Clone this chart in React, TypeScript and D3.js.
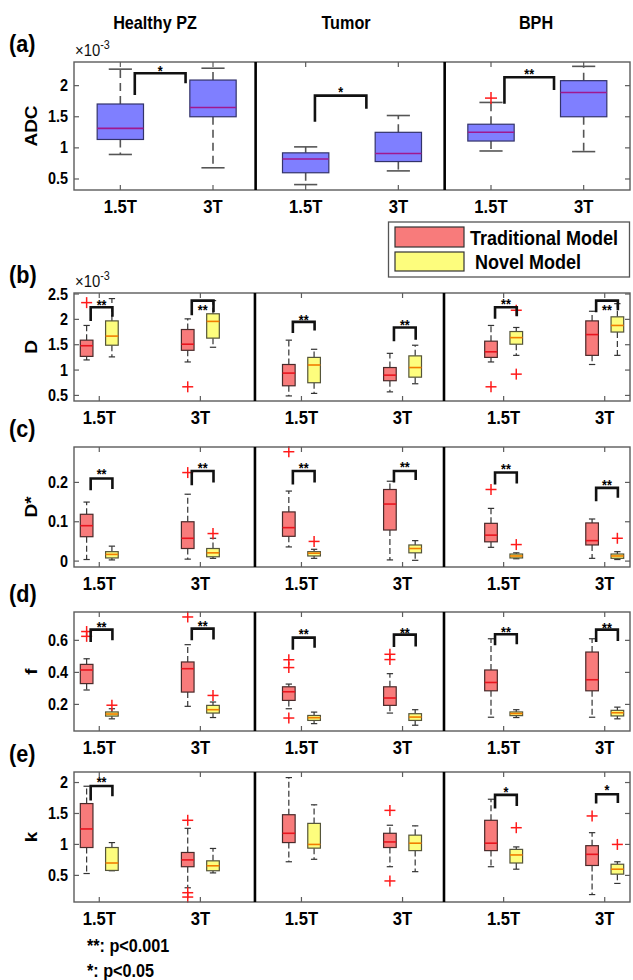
import React from "react";
import * as d3 from "d3";

const FONT = "'Liberation Sans', Arial, Helvetica, sans-serif";

// ---------- categories ----------
const tissues = ["Healthy PZ", "Tumor", "BPH"];
const groupLabels = ["1.5T", "3T", "1.5T", "3T", "1.5T", "3T"];
const groupPos = [1, 2, 3, 4, 5, 6];
const legendLabels = ["Traditional Model", "Novel Model"];
const footnotes = ["**: p<0.001", "*: p<0.05"];

// ---------- panel (a) ADC (x10^-3), stats = [lo, q1, median, q3, hi] ----------
const adcStats = [
  [0.894, 1.135, 1.313, 1.705, 2.265],
  [0.68, 1.5, 1.65, 2.09, 2.28],
  [0.41, 0.6, 0.82, 0.92, 1.016],
  [0.63, 0.78, 0.91, 1.25, 1.52],
  [0.95, 1.11, 1.25, 1.38, 1.73],
  [0.94, 1.5, 1.89, 2.08, 2.31],
];
const adcOutliers = [[], [], [], [], [1.8], []];
// [x1, x2, top, leftLegEnd, rightLegEnd, stars, starValue]
const adcBrackets: [number, number, number, number, number, string, number][] = [
  [1.156, 1.704, 2.2, 1.85, 2.04, "*", 2.29],
  [3.1, 3.655, 1.84, 1.42, 1.63, "*", 1.95],
  [5.145, 5.68, 2.135, 1.71, 1.93, "**", 2.23],
];
const adcTicks = [0.5, 1, 1.5, 2];

// ---------- panel (b) D (x10^-3) ----------
const dTrad = [
  [1.2, 1.27, 1.48, 1.59, 1.88],
  [1.16, 1.39, 1.51, 1.8, 2.01],
  [0.49, 0.69, 0.94, 1.11, 1.59],
  [0.57, 0.79, 0.9, 1.05, 1.33],
  [1.16, 1.25, 1.36, 1.57, 1.88],
  [1.11, 1.29, 1.7, 1.97, 2.16],
];
const dTradOut = [[2.33], [0.67], [], [], [0.67], []];
const dNovel = [
  [1.26, 1.49, 1.67, 1.97, 2.41],
  [1.45, 1.63, 1.96, 2.11, 2.37],
  [0.54, 0.75, 1.1, 1.25, 1.41],
  [0.73, 0.86, 1.05, 1.28, 1.49],
  [1.29, 1.51, 1.64, 1.76, 1.84],
  [1.29, 1.75, 1.88, 2.05, 2.31],
];
const dNovelOut = [[], [], [], [], [2.18, 0.92], []];
// [group, top, leftLegEnd, rightLegEnd, stars, starValue]
const dBrackets: [number, number, number, number, string, number][] = [
  [1, 2.24, 1.97, 2.05, "**", 2.34],
  [2, 2.37, 2.08, 2.14, "**", 2.25],
  [3, 1.95, 1.73, 1.78, "**", 2.05],
  [4, 1.84, 1.57, 1.6, "**", 1.95],
  [5, 2.24, 2.01, 2.06, "**", 2.36],
  [6, 2.37, 2.14, 2.18, "**", 2.25],
];
const dTicks = [0.5, 1, 1.5, 2, 2.5];

// ---------- panel (c) D* ----------
const dsTrad = [
  [0.004, 0.062, 0.09, 0.119, 0.15],
  [0.005, 0.032, 0.058, 0.1, 0.17],
  [0.036, 0.063, 0.085, 0.125, 0.178],
  [0.003, 0.079, 0.145, 0.182, 0.203],
  [0.035, 0.049, 0.066, 0.096, 0.134],
  [0.007, 0.041, 0.052, 0.097, 0.107],
];
const dsTradOut = [[], [0.225], [0.278], [], [0.182], []];
const dsNovel = [
  [0.003, 0.008, 0.017, 0.024, 0.038],
  [0.007, 0.011, 0.021, 0.032, 0.058],
  [0.007, 0.013, 0.02, 0.024, 0.03],
  [0.002, 0.021, 0.032, 0.041, 0.052],
  [0.006, 0.008, 0.013, 0.018, 0.021],
  [0.004, 0.007, 0.013, 0.018, 0.024],
];
const dsNovelOut = [[], [0.07], [0.05], [], [0.042], [0.058]];
const dsBrackets: [number, number, number, number, string, number][] = [
  [1, 0.21, 0.18, 0.183, "**", 0.229],
  [2, 0.229, 0.193, 0.2, "**", 0.244],
  [3, 0.229, 0.195, 0.2, "**", 0.244],
  [4, 0.229, 0.2, 0.206, "**", 0.246],
  [5, 0.225, 0.195, 0.197, "**", 0.241],
  [6, 0.186, 0.152, 0.161, "**", 0.2],
];
const dsTicks = [0, 0.1, 0.2];

// ---------- panel (d) f ----------
const fTrad = [
  [0.29, 0.33, 0.415, 0.45, 0.485],
  [0.188, 0.277, 0.423, 0.465, 0.573],
  [0.173, 0.225, 0.279, 0.31, 0.327],
  [0.146, 0.194, 0.24, 0.31, 0.392],
  [0.12, 0.285, 0.337, 0.415, 0.61],
  [0.12, 0.285, 0.354, 0.527, 0.61],
];
const fTradOut = [[0.655, 0.625], [0.746], [0.479, 0.43, 0.115], [0.513, 0.48], [], []];
const fNovel = [
  [0.11, 0.127, 0.14, 0.153, 0.173],
  [0.118, 0.146, 0.167, 0.194, 0.215],
  [0.08, 0.1, 0.117, 0.131, 0.152],
  [0.07, 0.1, 0.121, 0.142, 0.167],
  [0.118, 0.13, 0.143, 0.153, 0.167],
  [0.11, 0.128, 0.148, 0.163, 0.183],
];
const fNovelOut = [[0.195], [0.256], [], [], [], []];
const fBrackets: [number, number, number, number, string, number][] = [
  [1, 0.667, 0.59, 0.6, "**", 0.704],
  [2, 0.673, 0.6, 0.606, "**", 0.708],
  [3, 0.617, 0.542, 0.554, "**", 0.656],
  [4, 0.636, 0.558, 0.562, "**", 0.667],
  [5, 0.638, 0.569, 0.575, "**", 0.673],
  [6, 0.667, 0.59, 0.596, "**", 0.698],
];
const fTicks = [0.2, 0.4, 0.6];

// ---------- panel (e) k ----------
const kTrad = [
  [0.53, 0.95, 1.25, 1.66, 1.94],
  [0.3, 0.64, 0.75, 0.87, 1.26],
  [0.72, 1.03, 1.18, 1.48, 2.08],
  [0.64, 0.95, 1.04, 1.18, 1.31],
  [0.64, 0.9, 1.02, 1.39, 1.73],
  [0.19, 0.66, 0.84, 0.98, 1.19],
];
const kTradOut = [[], [1.39, 0.22, 0.15], [], [1.55, 0.41], [], [1.46]];
const kNovel = [
  [0.575, 0.58, 0.7, 0.95, 1.03],
  [0.54, 0.575, 0.655, 0.735, 0.935],
  [0.76, 0.94, 1.0, 1.34, 1.64],
  [0.56, 0.9, 1.02, 1.15, 1.3],
  [0.6, 0.7, 0.83, 0.92, 0.96],
  [0.37, 0.52, 0.6, 0.68, 0.72],
];
const kNovelOut = [[], [], [], [], [1.27], [1.0]];
const kBrackets: [number, number, number, number, string, number][] = [
  [1, 1.945, 1.71, 1.78, "**", 2.05],
  [5, 1.8, 1.58, 1.62, "*", 1.89],
  [6, 1.81, 1.66, 1.67, "*", 1.92],
];
const kTicks = [0.5, 1, 1.5, 2];

const dividersA = [2.46, 4.5];
const dividersB = [2.54, 4.41];

// ---------- styling ----------
const SX = 0.9;
const BORDER = "#5c5c5c";

function T(props: any) {
  const { x, y, size, anchor = "start", sx = SX, rotate = 0, weight = "bold", fill = "#000", children } = props;
  return (
    <text
      transform={`translate(${x},${y}) scale(${sx},1)${rotate ? ` rotate(${rotate})` : ""}`}
      fontSize={size}
      textAnchor={anchor}
      fontWeight={weight}
      fontFamily={FONT}
      fill={fill}
    >
      {children}
    </text>
  );
}

function Plus({ cx, cy, r = 5.5 }: any) {
  return (
    <g stroke="#ff1a1a" strokeWidth={1.5}>
      <line x1={cx - r} x2={cx + r} y1={cy} y2={cy} />
      <line x1={cx} x2={cx} y1={cy - r} y2={cy + r} />
    </g>
  );
}

function Box({ cx, w, s, y, fill, stroke, med, wColor, wWidth, dash, capW }: any) {
  const [lo, q1, m, q3, hi] = s;
  return (
    <g>
      <line x1={cx} x2={cx} y1={y(q3)} y2={y(hi)} stroke={wColor} strokeWidth={wWidth} strokeDasharray={dash} />
      <line x1={cx} x2={cx} y1={y(q1)} y2={y(lo)} stroke={wColor} strokeWidth={wWidth} strokeDasharray={dash} />
      <line x1={cx - capW / 2} x2={cx + capW / 2} y1={y(hi)} y2={y(hi)} stroke={wColor} strokeWidth={wWidth} />
      <line x1={cx - capW / 2} x2={cx + capW / 2} y1={y(lo)} y2={y(lo)} stroke={wColor} strokeWidth={wWidth} />
      <rect x={cx - w / 2} y={y(q3)} width={w} height={y(q1) - y(q3)} fill={fill} stroke={stroke} strokeWidth={1.2} />
      <line x1={cx - w / 2} x2={cx + w / 2} y1={y(m)} y2={y(m)} stroke={med} strokeWidth={1.6} />
    </g>
  );
}

function Frame({ x, y, top, bottom, ticks, dividers, expLabel, axisLabel, panelLabel }: any) {
  const [left, right] = x.range();
  return (
    <g>
      <rect x={left} y={top} width={right - left} height={bottom - top} fill="none" stroke={BORDER} strokeWidth={1.4} />
      {groupPos.map((g, i) => (
        <g key={i}>
          <line x1={x(g)} x2={x(g)} y1={top} y2={top + 5} stroke={BORDER} strokeWidth={1.2} />
          <line x1={x(g)} x2={x(g)} y1={bottom} y2={bottom - 5} stroke={BORDER} strokeWidth={1.2} />
          <T x={x(g)} y={bottom + 23} size={18.5} anchor="middle">{groupLabels[i]}</T>
        </g>
      ))}
      {ticks.map((t: number) => (
        <g key={t}>
          <line x1={left} x2={left + 5} y1={y(t)} y2={y(t)} stroke={BORDER} strokeWidth={1.2} />
          <line x1={right} x2={right - 5} y1={y(t)} y2={y(t)} stroke={BORDER} strokeWidth={1.2} />
          <T x={left - 6} y={y(t) + 5.5} size={16} anchor="end">{String(t)}</T>
        </g>
      ))}
      {dividers.map((d: number) => (
        <line key={d} x1={x(d)} x2={x(d)} y1={top} y2={bottom} stroke="#000" strokeWidth={2.6} />
      ))}
      {expLabel && (
        <text transform={`translate(${left + 1},${top - 6}) scale(${SX},1)`} fontFamily={FONT} fontSize={16.5} fill="#111">
          ×10<tspan fontSize={12} dy={-7}>-3</tspan>
        </text>
      )}
      <T x={36.5} y={(top + bottom) / 2} size={19} anchor="middle" rotate={-90}>{axisLabel}</T>
      <T x={9} y={top - 10} size={24}>{panelLabel}</T>
    </g>
  );
}

function Bracket({ x1, x2, yTop, yL, yR, stars, yStar }: any) {
  return (
    <g>
      <path d={`M${x1},${yL}V${yTop}H${x2}V${yR}`} fill="none" stroke="#111" strokeWidth={2.6} />
      <T x={(x1 + x2) / 2} y={yStar + 8} size={14} anchor="middle">{stars}</T>
    </g>
  );
}

const panelsBE = [
  { label: "(b)", axis: "D", top: 293, bottom: 401, domain: [0.39, 2.52], ticks: dTicks, trad: dTrad, tradOut: dTradOut, nov: dNovel, novOut: dNovelOut, br: dBrackets, exp: true },
  { label: "(c)", axis: "D*", top: 447, bottom: 567, domain: [-0.015, 0.29], ticks: dsTicks, trad: dsTrad, tradOut: dsTradOut, nov: dsNovel, novOut: dsNovelOut, br: dsBrackets, exp: false },
  { label: "(d)", axis: "f", top: 612, bottom: 731, domain: [0.034, 0.777], ticks: fTicks, trad: fTrad, tradOut: fTradOut, nov: fNovel, novOut: fNovelOut, br: fBrackets, exp: false },
  { label: "(e)", axis: "k", top: 772, bottom: 902, domain: [0.07, 2.17], ticks: kTicks, trad: kTrad, tradOut: kTradOut, nov: kNovel, novOut: kNovelOut, br: kBrackets, exp: false },
];

export default function App() {
  const xA = d3.scaleLinear().domain([0.5, 6.5]).range([74, 630]);
  const yA = d3.scaleLinear().domain([0.323, 2.38]).range([190, 62]);
  const xB = d3.scaleLinear().domain([0.75, 6.25]).range([74, 630]);
  const titleX = [155, 346, 536];

  return (
    <svg width={633} height={980} style={{ position: "absolute", left: 0, top: 0, background: "#fff" }}>
      <rect width={633} height={980} fill="#fff" />
      {tissues.map((t, i) => (
        <T key={t} x={titleX[i]} y={29} size={18} anchor="middle">{t}</T>
      ))}

      {/* panel a */}
      <g>
        {adcStats.map((s, i) => (
          <Box key={i} cx={xA(groupPos[i])} w={xA(1.5) - xA(1)} s={s} y={yA}
            fill="#7f7fff" stroke="#33336a" med="#a0188f" wColor="#555" wWidth={1.6} dash="8,5"
            capW={xA(1.25) - xA(1)} />
        ))}
        {adcOutliers.map((os, i) => os.map((v, j) => <Plus key={`${i}-${j}`} cx={xA(groupPos[i])} cy={yA(v)} r={6} />))}
        {adcBrackets.map((b, i) => (
          <Bracket key={i} x1={xA(b[0])} x2={xA(b[1])} yTop={yA(b[2])} yL={yA(b[3])} yR={yA(b[4])} stars={b[5]} yStar={yA(b[6])} />
        ))}
        <Frame x={xA} y={yA} top={62} bottom={190} ticks={adcTicks} dividers={dividersA} expLabel axisLabel="ADC" panelLabel="(a)" />
      </g>

      {/* legend */}
      <g>
        <rect x={388.5} y={222} width={241} height={55} fill="#fff" stroke="#555" strokeWidth={1.3} />
        <rect x={395} y={227} width={69} height={20} fill="#f87b7b" stroke="#333" strokeWidth={1.2} />
        <rect x={395} y={252} width={69} height={19} fill="#fdfd7d" stroke="#333" strokeWidth={1.2} />
        <T x={470} y={245} size={20}>{legendLabels[0]}</T>
        <T x={475} y={268.5} size={20}>{legendLabels[1]}</T>
      </g>

      {panelsBE.map((p) => {
        const y = d3.scaleLinear().domain(p.domain).range([p.bottom, p.top]);
        const w = xB(1.125) - xB(1);
        const capW = w * 0.5;
        return (
          <g key={p.label}>
            {p.trad.map((s, i) => (
              <Box key={`t${i}`} cx={xB(groupPos[i] - 0.125)} w={w} s={s} y={y}
                fill="#f87b7b" stroke="#4a2a2a" med="#e8141e" wColor="#333" wWidth={1.2} dash="6,3" capW={capW} />
            ))}
            {p.nov.map((s, i) => (
              <Box key={`n${i}`} cx={xB(groupPos[i] + 0.125)} w={w} s={s} y={y}
                fill="#fdfd7d" stroke="#55553a" med="#f07d00" wColor="#333" wWidth={1.2} dash="6,3" capW={capW} />
            ))}
            {p.tradOut.map((os, i) => os.map((v, j) => <Plus key={`to${i}-${j}`} cx={xB(groupPos[i] - 0.125)} cy={y(v)} />))}
            {p.novOut.map((os, i) => os.map((v, j) => <Plus key={`no${i}-${j}`} cx={xB(groupPos[i] + 0.125)} cy={y(v)} />))}
            {p.br.map((b, i) => (
              <Bracket key={`b${i}`} x1={xB(b[0] - 0.085)} x2={xB(b[0] + 0.13)} yTop={y(b[1])} yL={y(b[2])} yR={y(b[3])} stars={b[4]} yStar={y(b[5])} />
            ))}
            <Frame x={xB} y={y} top={p.top} bottom={p.bottom} ticks={p.ticks} dividers={dividersB} expLabel={p.exp} axisLabel={p.axis} panelLabel={p.label} />
          </g>
        );
      })}

      <T x={87} y={952} size={18}>{footnotes[0]}</T>
      <T x={87} y={977} size={18}>{footnotes[1]}</T>
    </svg>
  );
}
